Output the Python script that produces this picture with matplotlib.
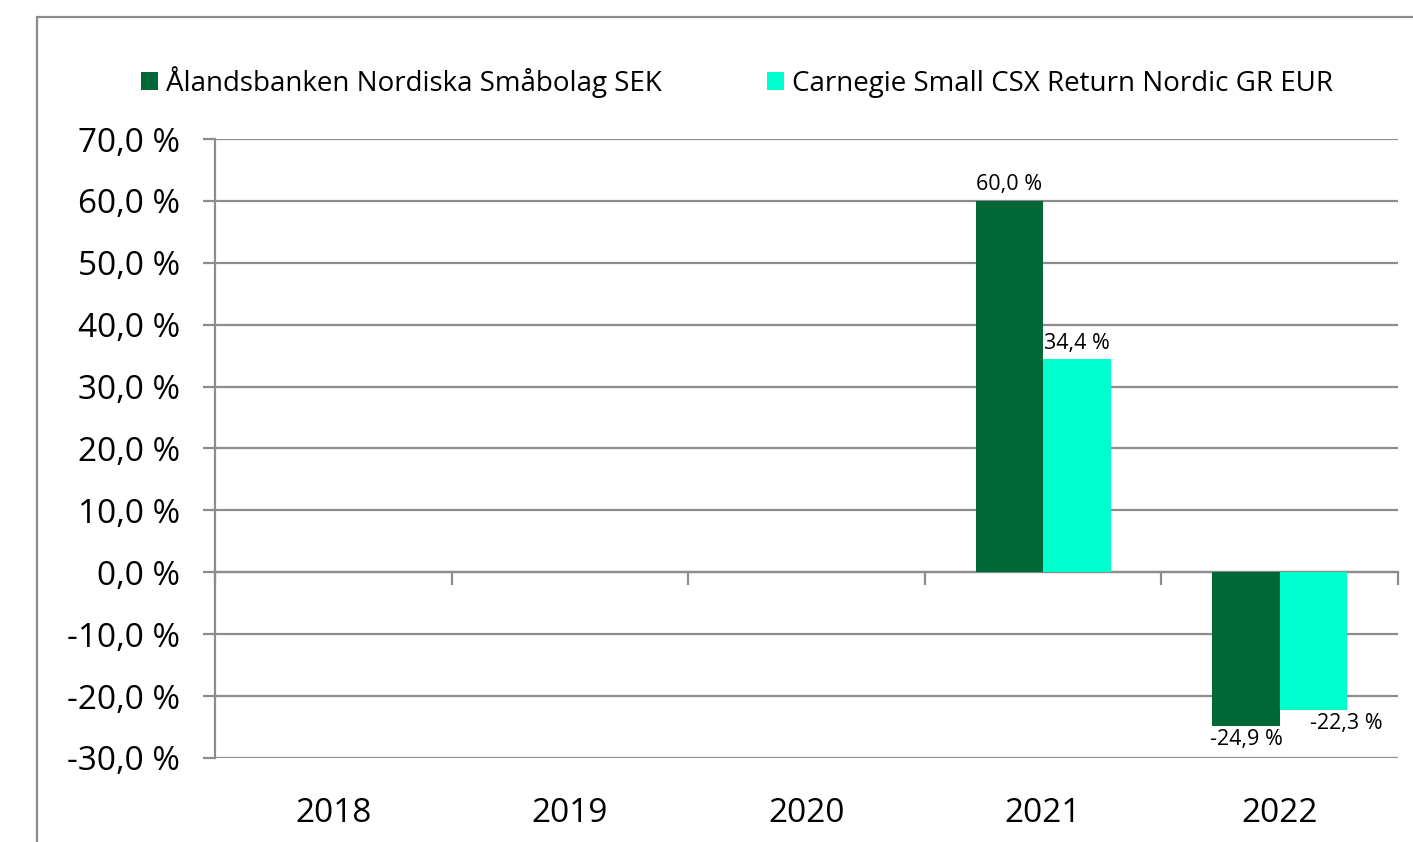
import matplotlib
matplotlib.use("Agg")
import matplotlib.pyplot as plt
from matplotlib.patches import Rectangle
import numpy as np

years = ["2018", "2019", "2020", "2021", "2022"]
fund = [np.nan, np.nan, np.nan, 60.0, -24.9]
index = [np.nan, np.nan, np.nan, 34.4, -22.3]
series_names = ["Ålandsbanken Nordiska Småbolag SEK", "Carnegie Small CSX Return Nordic GR EUR"]
yticks = [-30, -20, -10, 0, 10, 20, 30, 40, 50, 60, 70]

W, H = 1413, 842
plt.rcParams['font.family'] = ['Open Sans', 'DejaVu Sans']
GRAY = '#8c8c8c'
C1 = '#006837'
C2 = '#00FFCC'

fig = plt.figure(figsize=(W/100, H/100), dpi=100)
ax = fig.add_axes([215/W, 1-758/H, (1398-215)/W, (758-139)/H])

x = np.arange(len(years))
bw = 0.285
b1 = ax.bar(x - bw/2, fund, bw, color=C1, label=series_names[0], zorder=3)
b2 = ax.bar(x + bw/2, index, bw, color=C2, label=series_names[1], zorder=3)

ax.set_xlim(-0.5, len(years)-0.5)
ax.set_ylim(-30, 70)
ax.set_yticks(yticks)
ax.set_yticklabels([f"{v:.1f} %".replace('.', ',') for v in yticks], fontsize=24)
ax.yaxis.grid(True, color=GRAY, linewidth=1.6, zorder=1)
ax.tick_params(axis='y', length=9, width=1.6, color=GRAY, pad=16)

for s in ['top', 'right']:
    ax.spines[s].set_visible(False)
ax.spines['left'].set_color(GRAY)
ax.spines['left'].set_linewidth(1.6)
ax.spines['bottom'].set_position(('data', 0))
ax.spines['bottom'].set_color(GRAY)
ax.spines['bottom'].set_linewidth(1.6)
ax.spines['bottom'].set_zorder(2)

ax.set_xticks(x)
ax.set_xticklabels([])
ax.tick_params(axis='x', which='major', length=0)
ax.set_xticks(np.arange(len(years)+1) - 0.5, minor=True)
ax.tick_params(axis='x', which='minor', length=9, width=1.6, color=GRAY, direction='out')

for xi, yr in zip(x, years):
    ax.text(xi, -0.09, yr, transform=ax.get_xaxis_transform(), ha='center', va='center', fontsize=24)

def lab(v):
    return f"{v:.1f} %".replace('.', ',')

LFS = 15.5
for xi, v in zip(x, fund):
    if np.isnan(v):
        continue
    if v >= 0:
        ax.annotate(lab(v), (xi - bw/2, v), xytext=(0, 4), textcoords='offset points', ha='center', va='bottom', fontsize=LFS)
    else:
        ax.annotate(lab(v), (xi - bw/2, v), xytext=(0, -2), textcoords='offset points', ha='center', va='top', fontsize=LFS)
for xi, v in zip(x, index):
    if np.isnan(v):
        continue
    if v >= 0:
        ax.annotate(lab(v), (xi + bw/2, v), xytext=(0, 4), textcoords='offset points', ha='center', va='bottom', fontsize=LFS)
    else:
        ax.annotate(lab(v), (xi + bw/2, v), xytext=(24, -2), textcoords='offset points', ha='center', va='top', fontsize=LFS)

fig.legend(handles=[b1, b2], loc='center left', bbox_to_anchor=(130/W, 1-82/H), ncol=2,
           frameon=False, fontsize=20, handlelength=0.6, handleheight=0.6, handletextpad=0.3,
           columnspacing=3.8, borderaxespad=0)

fig.patches.append(Rectangle((37/W, -0.2), 1.5, 1.2 - 17/H, transform=fig.transFigure,
                             fill=False, edgecolor=GRAY, linewidth=1.6))

fig.savefig("out.png", dpi=100)
